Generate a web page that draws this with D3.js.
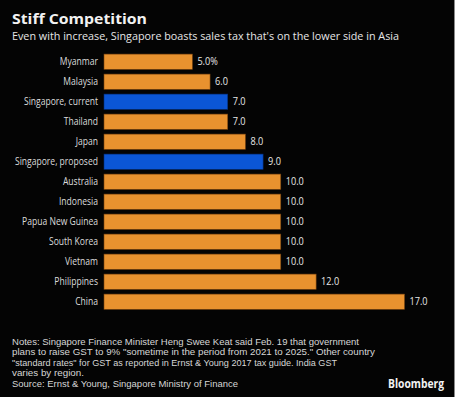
<!DOCTYPE html>
<html><head><meta charset="utf-8">
<script src="https://cdn.jsdelivr.net/npm/d3@7"></script>
<style>body{margin:0;background:#fff;}svg{display:block;}</style>
</head><body>
<script>
const categories = ["Myanmar","Malaysia","Singapore, current","Thailand","Japan","Singapore, proposed","Australia","Indonesia","Papua New Guinea","South Korea","Vietnam","Philippines","China"];
const values = [5,6,7,7,8,9,10,10,10,10,10,12,17];
const highlight = ["Singapore, current","Singapore, proposed"];
const valueLabels = ["5.0%","6.0","7.0","7.0","8.0","9.0","10.0","10.0","10.0","10.0","10.0","12.0","17.0"];
const title = "Stiff Competition";
const subtitle = "Even with increase, Singapore boasts sales tax that's on the lower side in Asia";
const notes = [
  "Notes: Singapore Finance Minister Heng Swee Keat said Feb. 19 that government",
  "plans to raise GST to 9% \"sometime in the period from 2021 to 2025.\" Other country",
  "\"standard rates\" for GST as reported in Ernst & Young 2017 tax guide. India GST",
  "varies by region.",
  "Source: Ernst & Young, Singapore Ministry of Finance"
];
const noteWidths = [347, 363, 325, 72, 226];

const W = 474, H = 397;
const svg = d3.select("body").append("svg").attr("width", W).attr("height", H);
const font = "'Open Sans', 'DejaVu Sans', sans-serif";

function squeeze(sel, f) {
  sel.each(function() {
    const w = this.getComputedTextLength();
    d3.select(this).attr("textLength", w * f).attr("lengthAdjust", "spacingAndGlyphs");
  });
}

svg.append("rect").attr("x",0).attr("y",0).attr("width",454).attr("height",H).attr("fill","#040404");
svg.append("line").attr("x1",454.5).attr("x2",454.5).attr("y1",0).attr("y2",H).attr("stroke","#8a8a8a").attr("stroke-width",1);

svg.append("text").attr("x",12).attr("y",24.3).text(title)
  .attr("fill","#f2f2f2").attr("font-family",font).attr("font-weight","bold").attr("font-size",15)
  .attr("textLength",135).attr("lengthAdjust","spacingAndGlyphs");
svg.append("text").attr("x",12).attr("y",39.6).text(subtitle)
  .attr("fill","#e6e6e6").attr("font-family",font).attr("font-size",10.5)
  .attr("textLength",387).attr("lengthAdjust","spacingAndGlyphs");

const x = d3.scaleLinear().domain([0,17]).range([104,404.5]);
const y = d3.scaleBand().domain(categories).range([51.7,311.7]).paddingInner(0.24).paddingOuter(0.12);

const g = svg.append("g");
g.selectAll("rect.bar").data(categories).join("rect").attr("class","bar")
  .attr("x", x(0)).attr("y", d => y(d))
  .attr("width", (d,i) => x(values[i]) - x(0)).attr("height", y.bandwidth())
  .attr("fill", d => highlight.includes(d) ? "#0b56d6" : "#e8922f")
  .attr("stroke", d => highlight.includes(d) ? "#06307a" : "#7a4510").attr("stroke-width",0.6);

const yAxis = d3.axisLeft(y).tickSize(0).tickPadding(6);
const ax = svg.append("g").attr("transform",`translate(${x(0)},0)`).call(yAxis);
ax.select(".domain").remove();
ax.selectAll("text").attr("fill","#dcdcdc").attr("font-family",font).attr("font-size",10.2);
squeeze(ax.selectAll("text"), 0.84);

const vt = g.selectAll("text.val").data(categories).join("text").attr("class","val")
  .attr("x",(d,i)=>x(values[i])+5).attr("y",d=>y(d)+y.bandwidth()/2).attr("dy","0.35em")
  .text((d,i)=>valueLabels[i]).attr("fill","#e6e6e6").attr("font-family",font).attr("font-size",10.4);
squeeze(vt, 0.88);

svg.append("g").selectAll("text").data(notes).join("text")
  .attr("x",12).attr("y",(d,i)=>344.5+i*10.5).text(d=>d)
  .attr("fill","#d6d6d6").attr("font-family","'Liberation Sans', Arial, sans-serif").attr("font-size",9)
  .attr("textLength",(d,i)=>noteWidths[i]).attr("lengthAdjust","spacingAndGlyphs");

svg.append("text").attr("x",388).attr("y",388).text("Bloomberg")
  .attr("fill","#f2f2f2").attr("font-family",font).attr("font-weight","bold").attr("font-size",12)
  .attr("textLength",56).attr("lengthAdjust","spacingAndGlyphs");
</script>
</body></html>
